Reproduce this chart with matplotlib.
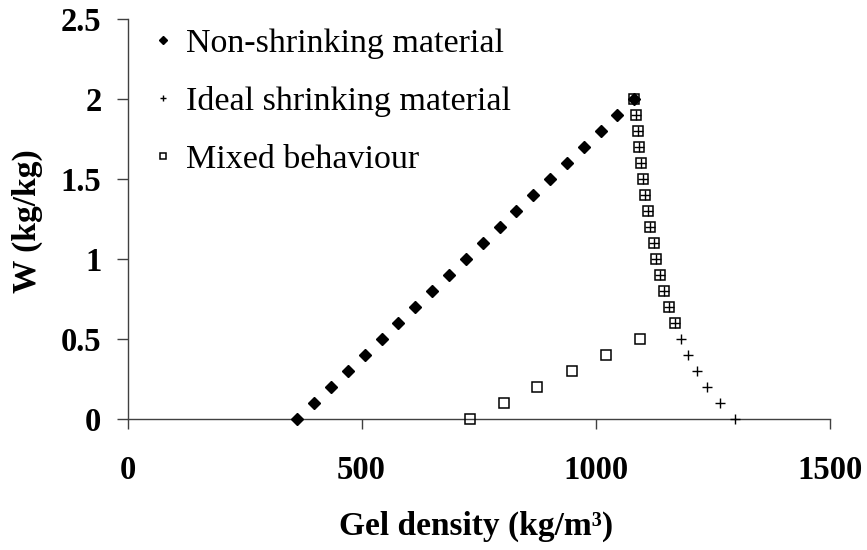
import matplotlib
matplotlib.use("Agg")
import matplotlib.pyplot as plt

# Data
W = [0.0, 0.1, 0.2, 0.3, 0.4, 0.5, 0.6, 0.7, 0.8, 0.9, 1.0,
     1.1, 1.2, 1.3, 1.4, 1.5, 1.6, 1.7, 1.8, 1.9, 2.0]
non_shrinking = [363, 399, 435, 471, 507, 543, 579, 615, 651, 687, 723,
                 759, 795, 831, 867, 903, 939, 975, 1011, 1047, 1083]
ideal_shrinking = [1298, 1266, 1238, 1216, 1198, 1182, 1169, 1157, 1147, 1138, 1130,
                   1124, 1117, 1112, 1106, 1102, 1098, 1094, 1090, 1087, 1083]
mixed = [731, 804, 876, 949, 1022, 1095, 1169, 1157, 1147, 1138, 1130,
         1124, 1117, 1112, 1106, 1102, 1098, 1094, 1090, 1087, 1083]

labels = ["Non-shrinking material", "Ideal shrinking material", "Mixed behaviour"]
x_ticks = [0, 500, 1000, 1500]
y_ticks = [0, 0.5, 1, 1.5, 2, 2.5]
y_tick_labels = ["0", "0.5", "1", "1.5", "2", "2.5"]

plt.rcParams['font.family'] = ['Liberation Serif', 'DejaVu Serif']

W_PX, H_PX, DPI = 867, 550, 100
fig = plt.figure(figsize=(W_PX / DPI, H_PX / DPI), dpi=DPI)
ax = fig.add_axes([127.5 / W_PX, 1 - 419 / H_PX, (829.5 - 127.5) / W_PX, (419 - 19) / H_PX])

ax.plot(non_shrinking, W, linestyle='none', marker='D', markersize=6.3,
        color='black', label=labels[0], clip_on=False, zorder=3)
ax.plot(ideal_shrinking, W, linestyle='none', marker='+', markersize=7.5,
        markeredgewidth=1.0, color='black', label=labels[1], clip_on=False, zorder=3)
ax.plot(mixed, W, linestyle='none', marker='s', markersize=7,
        markerfacecolor='none', markeredgewidth=1.1, markeredgecolor='black',
        label=labels[2], clip_on=False, zorder=3)

ax.set_xlim(0, 1500)
ax.set_ylim(0, 2.5)
ax.set_xticks(x_ticks)
ax.set_xticklabels([str(v) for v in x_ticks])
ax.set_yticks(y_ticks)
ax.set_yticklabels(y_tick_labels)

spine_color = '#404040'
for s in ['top', 'right']:
    ax.spines[s].set_visible(False)
for s in ['left', 'bottom']:
    ax.spines[s].set_color(spine_color)
    ax.spines[s].set_linewidth(1.0)

ax.tick_params(axis='x', direction='out', length=7.2, width=1.0, color=spine_color,
               pad=19, labelsize=23.5)
ax.tick_params(axis='y', direction='out', length=7.8, width=1.0, color=spine_color,
               pad=11, labelsize=23.5)
for t in ax.get_xticklabels() + ax.get_yticklabels():
    t.set_fontweight('bold')

fig.text(476 / W_PX, 1 - 526 / H_PX, "Gel density (kg/m³)", ha='center', va='center',
         fontsize=24, fontweight='bold')
fig.text(27 / W_PX, 1 - 221 / H_PX, "W (kg/kg)", ha='center', va='center',
         rotation=90, fontsize=24, fontweight='bold')

leg = ax.legend(loc='upper left', bbox_to_anchor=(154 / W_PX, 1 - 28 / H_PX),
                bbox_transform=fig.transFigure, frameon=False, fontsize=24.5,
                markerscale=0.6, handlelength=0.55, handletextpad=0.4,
                labelspacing=0.8, borderpad=0, borderaxespad=0)

fig.savefig("out.png", dpi=DPI)
